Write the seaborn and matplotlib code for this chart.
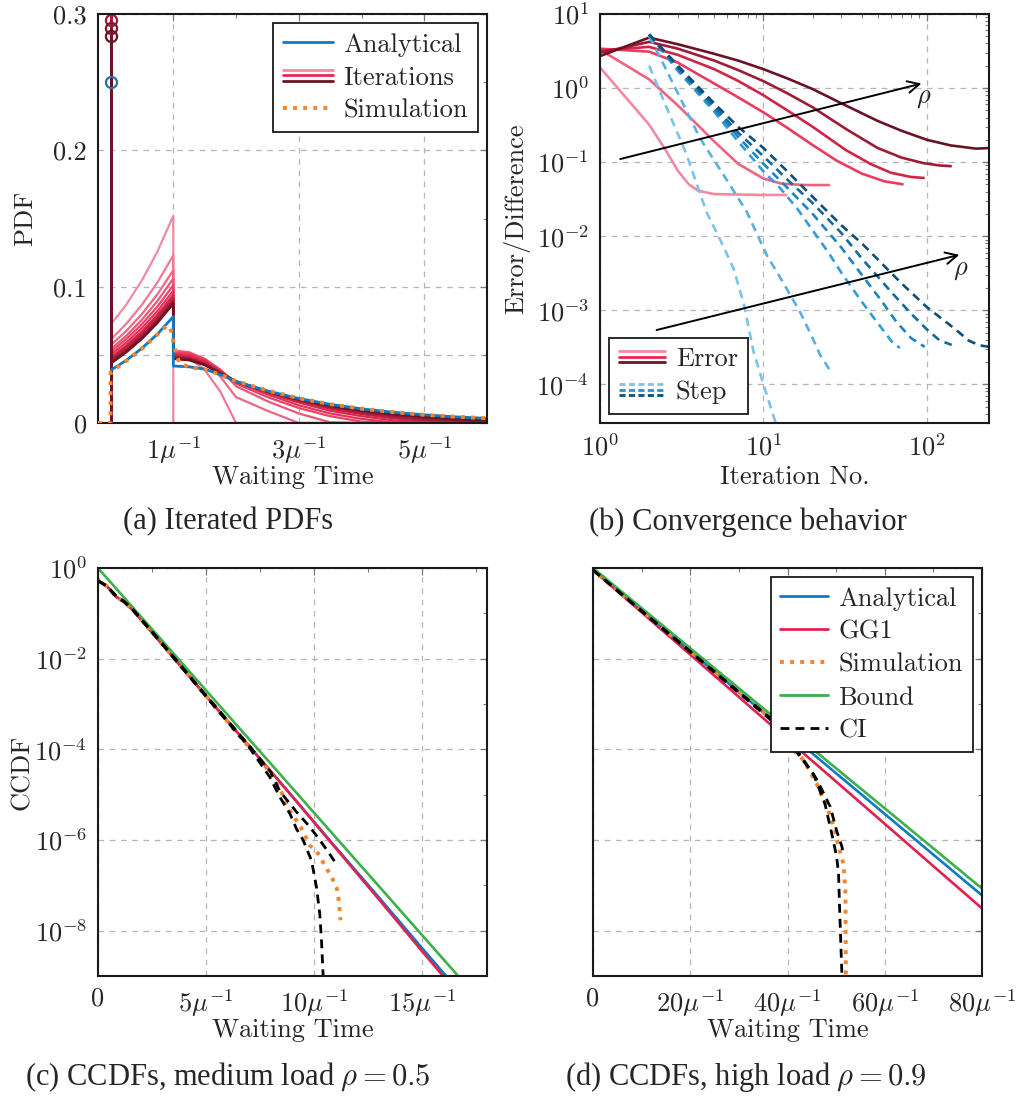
import numpy as np
import pandas as pd
import matplotlib
matplotlib.use("Agg")
import matplotlib.pyplot as plt
import matplotlib.ticker as mticker
from matplotlib.lines import Line2D
from matplotlib.legend_handler import HandlerBase
from matplotlib.colors import LinearSegmentedColormap
import seaborn as sns

# ------------------------------------------------------------------ data
# (a) iterated PDFs -- x in units of 1/mu
pdf_x_first = [0.0, 0.25, 0.5, 0.75, 1.0]
pdf_x_second = [1.0, 1.25, 1.5, 1.75, 2.0]
pdf_x_tail = [2.0, 2.5, 3.0, 3.5, 4.0, 4.5, 5.0, 5.5, 6.0]

iter_first = [
    [0.072, 0.0868, 0.1046, 0.126, 0.152],
    [0.061, 0.0727, 0.0867, 0.1033, 0.123],
    [0.057, 0.0675, 0.0799, 0.0946, 0.112],
    [0.054, 0.0639, 0.0757, 0.0896, 0.106],
    [0.052, 0.0615, 0.0725, 0.0856, 0.101],
    [0.050, 0.059, 0.0697, 0.0822, 0.097],
    [0.048, 0.0569, 0.0672, 0.0795, 0.094],
    [0.047, 0.0556, 0.0658, 0.0778, 0.092],
    [0.046, 0.0544, 0.0643, 0.0761, 0.090],
    [0.045, 0.0533, 0.0633, 0.0751, 0.089],
    [0.044, 0.0524, 0.0622, 0.0740, 0.088],
    [0.0435, 0.0518, 0.0617, 0.0735, 0.0875],
]
iter_second = [
    [0.0, 0.0, 0.0, 0.0, 0.0],
    [0.052, 0.048, 0.039, 0.023, 0.0],
    [0.053, 0.051, 0.045, 0.034, 0.019],
    [0.053, 0.052, 0.047, 0.039, 0.027],
    [0.052, 0.051, 0.047, 0.039, 0.029],
    [0.051, 0.050, 0.046, 0.038, 0.030],
    [0.050, 0.049, 0.045, 0.038, 0.030],
    [0.049, 0.048, 0.044, 0.037, 0.030],
    [0.0485, 0.0475, 0.0435, 0.037, 0.0305],
    [0.048, 0.047, 0.043, 0.0365, 0.0305],
    [0.0475, 0.0465, 0.0428, 0.0363, 0.0305],
    [0.047, 0.046, 0.0425, 0.036, 0.0305],
]
iter_tail = [
    [0.0, 0.0, 0.0, 0.0, 0.0, 0.0, 0.0, 0.0, 0.0],
    [0.0, 0.0, 0.0, 0.0, 0.0, 0.0, 0.0, 0.0, 0.0],
    [0.019, 0.009, 0.0, 0.0, 0.0, 0.0, 0.0, 0.0, 0.0],
    [0.027, 0.016, 0.007, 0.0005, 0.0, 0.0, 0.0, 0.0, 0.0],
    [0.029, 0.019, 0.011, 0.005, 0.001, 0.0, 0.0, 0.0, 0.0],
    [0.030, 0.021, 0.013, 0.007, 0.003, 0.0005, 0.0, 0.0, 0.0],
    [0.030, 0.022, 0.015, 0.009, 0.005, 0.002, 0.0005, 0.0, 0.0],
    [0.030, 0.0225, 0.016, 0.0105, 0.0065, 0.0035, 0.0015, 0.0004, 0.0],
    [0.0305, 0.023, 0.0165, 0.0115, 0.0075, 0.0045, 0.0025, 0.0011, 0.0003],
    [0.0305, 0.023, 0.017, 0.012, 0.0083, 0.0055, 0.0034, 0.0019, 0.0009],
    [0.0305, 0.0232, 0.0172, 0.0125, 0.0089, 0.0062, 0.0041, 0.0026, 0.0015],
    [0.0305, 0.0233, 0.0175, 0.0128, 0.0093, 0.0066, 0.0046, 0.0031, 0.0020],
]
iter_atoms = [0.50, 0.42, 0.38, 0.355, 0.34, 0.327, 0.317, 0.31, 0.306,
              0.2957, 0.2896, 0.2835]

ana_first = [0.0386, 0.0460, 0.0548, 0.0654, 0.0780]
ana_second = [0.0418, 0.0412, 0.0395, 0.0355, 0.0305]
ana_tail = [0.0305, 0.0235, 0.0180, 0.0137, 0.0104, 0.0079, 0.0060, 0.0045, 0.0034]
ana_atom = 0.25

sim_a_x = [-0.2, 0.0, 0.0, 0.25, 0.5, 0.75, 0.9, 0.95, 1.0, 1.05, 1.1, 1.25, 1.5,
           1.75, 2.0, 2.5, 3.0, 3.5, 4.0, 4.5, 5.0, 5.5, 6.0]
sim_a_y = [0.0, 0.0, 0.037, 0.0455, 0.0545, 0.065, 0.0715, 0.070, 0.060, 0.050,
           0.044, 0.041, 0.0393, 0.0355, 0.0308, 0.0238, 0.0182, 0.0138, 0.0105,
           0.0080, 0.0060, 0.0046, 0.0035]

# (b) convergence behaviour
err_x = [
    [1, 2, 2.5, 3, 3.5, 4, 5, 7, 10, 14],
    [1, 2, 3, 4, 5, 7, 10, 13, 18, 25.5],
    [1, 2, 3, 5, 7, 10, 14, 20, 28, 40, 55, 72],
    [1, 2, 3, 5, 7, 10, 14, 20, 32, 45, 60, 80, 97],
    [1, 2, 3, 5, 7, 10, 14, 20, 32, 50, 70, 95, 120, 142],
    [1, 2, 3, 5, 7, 10, 14, 20, 32, 50, 70, 100, 140, 200, 243],
]
err_y = [
    [1.9, 0.32, 0.15, 0.076, 0.05, 0.041, 0.037, 0.0365, 0.036, 0.036],
    [3.3, 1.31, 0.58, 0.31, 0.19, 0.095, 0.060, 0.051, 0.049, 0.049],
    [3.4, 3.1, 2.2, 1.15, 0.75, 0.47, 0.29, 0.17, 0.105, 0.070, 0.055, 0.050],
    [3.2, 3.6, 2.8, 1.8, 1.25, 0.80, 0.50, 0.30, 0.145, 0.095, 0.072, 0.063, 0.061],
    [3.0, 4.2, 3.4, 2.35, 1.75, 1.24, 0.85, 0.55, 0.28, 0.155, 0.115, 0.097, 0.090,
     0.088],
    [2.7, 4.8, 3.9, 2.9, 2.35, 1.8, 1.35, 0.97, 0.58, 0.36, 0.265, 0.20, 0.168, 0.152,
     0.155],
]
step_x = [
    [2, 2.56, 3.39, 4.49, 5.5, 6.55, 7.6, 8.7, 10, 12, 13],
    [2, 2.33, 3.09, 4.09, 5.68, 7.9, 10.5, 13, 16.7, 20, 22.2, 25.5],
    [2, 3, 5, 7, 10, 12.6, 16, 20, 25, 30, 40, 52, 62, 68.4],
    [2, 3, 5, 7, 10, 14, 20, 30, 40, 52, 65, 80, 97],
    [2, 3, 5, 7, 10, 14, 20, 30, 40, 60, 80, 100, 120, 142],
    [2, 3, 5, 7, 10, 14, 20, 30, 40, 70, 100, 150, 180, 210, 243],
]
step_y = [
    [2.0, 0.54, 0.126, 0.021, 8.5e-3, 3.7e-3, 1.2e-3, 2.75e-4, 1e-4, 2.8e-5, 1.5e-5],
    [5.0, 2.6, 0.74, 0.21, 0.068, 0.0214, 5.5e-3, 2.5e-3, 9.6e-4, 4.2e-4, 2.5e-4,
     1.55e-4],
    [5.3, 1.7, 0.48, 0.19, 0.075, 0.045, 0.024, 0.012, 6e-3, 3.2e-3, 1.3e-3, 6e-4,
     3.6e-4, 3.1e-4],
    [5.3, 1.8, 0.52, 0.22, 0.095, 0.045, 0.02, 7e-3, 3e-3, 1.4e-3, 7e-4, 4.2e-4, 3.2e-4],
    [5.3, 1.9, 0.57, 0.25, 0.12, 0.058, 0.028, 0.011, 5e-3, 1.8e-3, 9e-4, 5.5e-4,
     3.9e-4, 3.4e-4],
    [5.3, 2.0, 0.62, 0.30, 0.155, 0.075, 0.034, 0.014, 8e-3, 2.3e-3, 1.1e-3, 5.5e-4,
     3.9e-4, 3.35e-4, 3.2e-4],
]
arrow_err = [(1.33, 0.11), (92.7, 1.15)]
arrow_step = [(2.22, 5.4e-4), (158.0, 5.6e-3)]

# (c) CCDFs, rho = 0.5
c_ana_x = [0, 0.4, 0.85, 1.2, 1.6, 3, 5, 7, 9, 11, 13, 15, 16.2]
c_ana_y = [0.52, 0.40, 0.23, 0.18, 0.12, 0.02, 1.5e-3, 1.17e-4, 9.1e-6, 6.9e-7,
           5.4e-8, 4.1e-9, 8.9e-10]
c_gg1_x = [0, 0.4, 0.85, 1.2, 1.6, 3, 5, 7, 9, 11, 13, 15, 16.2]
c_gg1_y = [0.52, 0.40, 0.23, 0.18, 0.12, 0.02, 1.5e-3, 1.17e-4, 9.0e-6, 6.6e-7,
           4.9e-8, 3.5e-9, 7.4e-10]
c_sim_x = [0, 0, 0.4, 0.85, 1.2, 1.6, 3, 5, 7, 8.0, 8.41, 8.88, 9.42, 9.80, 10.19,
           10.50, 10.80, 11.04, 11.14, 11.19, 11.22]
c_sim_y = [1.0, 0.52, 0.40, 0.23, 0.18, 0.12, 0.02, 1.5e-3, 1.1e-4, 3.0e-5, 1.35e-5,
           4.5e-6, 1.78e-6, 7.6e-7, 5.0e-7, 2.75e-7, 1.55e-7, 9.1e-8, 4.7e-8, 2.6e-8,
           1.7e-8]
c_bound_x = [0, 17.0]
c_bound_y = [1.0, 6.6e-10]
c_cilo_x = [0, 0.4, 0.85, 1.2, 1.6, 3, 5, 7, 7.95, 8.41, 8.88, 9.18, 9.49, 9.88,
            10.11, 10.26, 10.34, 10.42]
c_cilo_y = [0.52, 0.40, 0.23, 0.18, 0.12, 0.02, 1.45e-3, 1.1e-4, 2.45e-5, 8.9e-6,
            3.8e-6, 1.78e-6, 1.0e-6, 3.5e-7, 9.1e-8, 2.4e-8, 6.2e-9, 9.5e-10]
c_cihi_x = [0, 0.4, 0.85, 1.2, 1.6, 3, 5, 7, 8.0, 8.41, 9.18, 9.80, 10.26, 10.65, 10.96]
c_cihi_y = [0.53, 0.41, 0.24, 0.185, 0.125, 0.021, 1.55e-3, 1.2e-4, 3.1e-5, 1.2e-5,
            4.2e-6, 1.95e-6, 1.0e-6, 5.5e-7, 3.3e-7]

# (d) CCDFs, rho = 0.9
d_ana_x = [0, 20, 40, 60, 80]
d_ana_y = [0.9, 1.45e-2, 2.34e-4, 3.75e-6, 6.0e-8]
d_gg1_x = [0, 20, 40, 60, 80]
d_gg1_y = [0.9, 1.23e-2, 1.66e-4, 2.27e-6, 3.1e-8]
d_bound_x = [0, 20, 40, 60, 80]
d_bound_y = [1.0, 1.7e-2, 2.9e-4, 5.0e-6, 8.5e-8]
d_sim_x = [0, 0, 10, 20, 30, 38, 41.2, 43.3, 46.0, 48.4, 49.8, 50.5, 51.5, 51.9,
           51.95, 52.0]
d_sim_y = [1.0, 0.9, 0.115, 1.45e-2, 1.84e-3, 3.5e-4, 9.5e-5, 5.8e-5, 1.74e-5,
           4.5e-6, 1.6e-6, 7.1e-7, 3.0e-7, 7.8e-8, 1.45e-8, 1.0e-9]
d_cilo_x = [0, 10, 20, 30, 38, 42.6, 45.3, 47.7, 49.1, 50.1, 50.5, 50.7, 51.2]
d_cilo_y = [0.9, 0.11, 1.4e-2, 1.75e-3, 3.3e-4, 6.8e-5, 2.9e-5, 6.3e-6, 1.38e-6,
            4.3e-7, 1.8e-7, 3.4e-8, 1.0e-9]
d_cihi_x = [0, 10, 20, 30, 38, 42.9, 46.0, 48.8, 50.1, 51.2, 51.5]
d_cihi_y = [0.9, 0.115, 1.45e-2, 1.85e-3, 3.6e-4, 6.8e-5, 2.2e-5, 5.4e-6, 1.6e-6,
            7.1e-7, 4.6e-7]

# ------------------------------------------------------------------ style
sns.set_theme(style="white")
plt.rcParams["font.family"] = ["cmr10", "DejaVu Serif"]
plt.rcParams["mathtext.fontset"] = "cm"
plt.rcParams["axes.formatter.use_mathtext"] = True
plt.rcParams["axes.unicode_minus"] = False

C_BLUE = "#0a7cc4"
C_RED = "#e3204f"
C_ORANGE = "#f5852b"
C_GREEN = "#3cb14a"
C_PINK = "#f28aa4"
C_CRIM = "#e8294f"
C_DARK = "#6b1326"
C_SB1, C_SB2, C_SB3 = "#7cc3ea", "#1f93d3", "#0d4f78"

FS = 19
LW = 1.9
DOT = (0, (1.0, 1.6))
DASH = (0, (3.2, 2.2))

red_cmap = LinearSegmentedColormap.from_list("reds", [C_PINK, C_CRIM, C_DARK])
blue_cmap = LinearSegmentedColormap.from_list("blues", [C_SB1, C_SB2, C_SB3])

W, H = 1016, 1096
fig = plt.figure(figsize=(W / 100, H / 100), dpi=100)


def add_ax(l, t, r, b):
    return fig.add_axes([l / W, 1 - b / H, (r - l) / W, (b - t) / H])


def draw(ax, x, y, color, lw=LW, ls="-", z=2):
    df = pd.DataFrame({"x": x, "y": y})
    sns.lineplot(data=df, x="x", y="y", ax=ax, color=color, lw=lw, sort=False,
                 estimator=None, legend=False, zorder=z)
    ln = ax.lines[-1]
    ln.set_linestyle(ls)
    ln.set_solid_capstyle("butt")
    ln.set_dash_capstyle("butt")
    return ln


def style_ax(ax):
    for s in ax.spines.values():
        s.set_color("#1a1a1a")
        s.set_linewidth(1.5)
        s.set_zorder(5)
    ax.tick_params(which="both", direction="in", top=True, right=True,
                   color="#7a7a7a", labelsize=FS)
    ax.tick_params(which="major", length=5, width=0.9, pad=8)
    ax.tick_params(which="minor", length=3, width=0.8)
    ax.grid(True, which="major", color="#b5b5b5", lw=0.9, ls=(0, (4.5, 4.5)))
    ax.grid(False, which="minor")
    ax.set_axisbelow(True)


class StackHandler(HandlerBase):
    def __init__(self, colors, ls="-", lw=2.0, gap=0.3):
        super().__init__()
        self.colors, self.ls, self.lw, self.gap = colors, ls, lw, gap

    def create_artists(self, legend, orig_handle, xdescent, ydescent, width,
                       height, fontsize, trans):
        out = []
        yc = (height - ydescent) / 2
        for i, c in enumerate(self.colors):
            y = yc + (1 - i) * self.gap * height
            out.append(Line2D([-xdescent, -xdescent + width], [y, y], color=c,
                              lw=self.lw, linestyle=self.ls, transform=trans))
        return out


def make_legend(ax, handles, labels, loc, hmap=None, hl=1.85):
    leg = ax.legend(handles, labels, loc=loc, handler_map=hmap or {},
                    fontsize=FS, frameon=True, fancybox=False, framealpha=1,
                    edgecolor="#1a1a1a", borderpad=0.37, labelspacing=0.35,
                    handlelength=hl, handletextpad=0.4, borderaxespad=0.35)
    leg.get_frame().set_linewidth(1.3)
    leg.set_zorder(10)
    return leg


# ------------------------------------------------------------------ (a)
ax = add_ax(98, 14, 487, 423)
style_ax(ax)
n_it = len(iter_first)
it_cols = [red_cmap(i / (n_it - 1)) for i in range(n_it)]
for k in range(n_it):
    xs = pdf_x_first + pdf_x_second + pdf_x_tail
    ys = iter_first[k] + iter_second[k] + iter_tail[k]
    draw(ax, xs, ys, it_cols[k], lw=1.6, z=2)
# atoms (stems + circles)
draw(ax, [0, 0], [0, ana_atom], C_BLUE, lw=2.0, z=2)
ax.plot([0], [ana_atom], marker="o", ms=8, mfc="none", mec="#2f6f9a", mew=1.6,
        zorder=4)
for k in range(n_it):
    draw(ax, [0, 0], [0, iter_atoms[k]], it_cols[k], lw=2.0, z=3)
    ax.plot([0], [iter_atoms[k]], marker="o", ms=8, mfc="none", mec=it_cols[k],
            mew=1.6, zorder=4)
draw(ax, pdf_x_first + pdf_x_second + pdf_x_tail, ana_first + ana_second + ana_tail,
     C_BLUE, lw=2.0, z=3)
draw(ax, sim_a_x, sim_a_y, C_ORANGE, lw=2.8, ls=DOT, z=6)
ax.axhline(0.05, color="#b5b5b5", lw=0.9, ls=(0, (4.5, 4.5)), zorder=0.5)
ax.set_xlim(-0.2, 6.0)
ax.set_ylim(0, 0.3)
ax.xaxis.set_major_locator(mticker.FixedLocator([1, 3, 5]))
ax.xaxis.set_major_formatter(mticker.FixedFormatter(
    [r"$1\mu^{-1}$", r"$3\mu^{-1}$", r"$5\mu^{-1}$"]))
ax.xaxis.set_minor_locator(mticker.FixedLocator([0, 2, 4]))
ax.yaxis.set_major_locator(mticker.FixedLocator([0, 0.1, 0.2, 0.3]))
ax.yaxis.set_major_formatter(mticker.FixedFormatter(["0", "0.1", "0.2", "0.3"]))
ax.yaxis.set_minor_locator(mticker.FixedLocator([0.05, 0.15, 0.25]))
ax.set_xlabel("Waiting Time", fontsize=FS)
ax.set_ylabel("PDF", fontsize=FS)
ax.xaxis.set_label_coords(0.5, -0.132)
ax.xaxis.label.set_va("center")
ax.yaxis.set_label_coords(-0.188, 0.5)
ax.yaxis.label.set_va("center")
h_ana = Line2D([], [], color=C_BLUE, lw=2.0)
h_it = Line2D([], [], color=C_CRIM, lw=2.0)
h_sim = Line2D([], [], color=C_ORANGE, lw=2.8, ls=DOT)
make_legend(ax, [h_ana, h_it, h_sim], ["Analytical", "Iterations", "Simulation"],
            "upper right", {h_it: StackHandler([C_PINK, C_CRIM, C_DARK], lw=2.0)},
            hl=1.9)

# ------------------------------------------------------------------ (b)
ax = add_ax(600, 14, 989, 423)
ax.set_xscale("log")
ax.set_yscale("log")
style_ax(ax)
n_r = len(err_x)
for k in range(n_r):
    draw(ax, err_x[k], err_y[k], red_cmap(k / (n_r - 1)), lw=1.9, z=2)
for k in range(n_r):
    draw(ax, step_x[k], step_y[k], blue_cmap(k / (n_r - 1)), lw=1.9, ls=DASH, z=3)
arrow_kw = dict(arrowstyle="->,head_length=0.7,head_width=0.35", color="black",
                lw=1.4, shrinkA=0, shrinkB=0)
ax.annotate("", xy=arrow_err[1], xytext=arrow_err[0], arrowprops=arrow_kw, zorder=6)
ax.annotate("", xy=arrow_step[1], xytext=arrow_step[0], arrowprops=arrow_kw, zorder=6)
ax.text(96, 0.72, r"$\rho$", fontsize=FS, ha="center", va="center", zorder=6)
ax.text(162, 3.5e-3, r"$\rho$", fontsize=FS, ha="center", va="center", zorder=6)
ax.set_xlim(1, 240)
ax.set_ylim(3e-5, 10)
ax.xaxis.set_major_locator(mticker.FixedLocator([1, 10, 100]))
ax.xaxis.set_major_formatter(mticker.FixedFormatter(
    [r"$10^{0}$", r"$10^{1}$", r"$10^{2}$"]))
ax.xaxis.set_minor_locator(mticker.LogLocator(base=10, subs=np.arange(2, 10), numticks=20))
ax.xaxis.set_minor_formatter(mticker.NullFormatter())
yt = [1e1, 1e0, 1e-1, 1e-2, 1e-3, 1e-4]
ax.yaxis.set_major_locator(mticker.FixedLocator(yt))
ax.yaxis.set_major_formatter(mticker.FixedFormatter(
    [r"$10^{1}$", r"$10^{0}$", r"$10^{-1}$", r"$10^{-2}$", r"$10^{-3}$", r"$10^{-4}$"]))
ax.yaxis.set_minor_locator(mticker.LogLocator(base=10, subs=np.arange(2, 10), numticks=20))
ax.yaxis.set_minor_formatter(mticker.NullFormatter())
ax.set_xlabel("Iteration No.", fontsize=FS)
ax.set_ylabel("Error/Difference", fontsize=FS)
ax.xaxis.set_label_coords(0.5, -0.132)
ax.xaxis.label.set_va("center")
ax.yaxis.set_label_coords(-0.213, 0.5)
ax.yaxis.label.set_va("center")
h_err = Line2D([], [], color=C_CRIM, lw=2.0)
h_step = Line2D([], [], color=C_SB2, lw=2.0, ls=DASH)
make_legend(ax, [h_err, h_step], ["Error", "Step"], "lower left",
            {h_err: StackHandler([C_PINK, C_CRIM, C_DARK], lw=2.0),
             h_step: StackHandler([C_SB1, C_SB2, C_SB3], ls=(0, (2.2, 1.2)), lw=2.0)},
            hl=1.75)


def ccdf_axes(ax):
    ax.set_yscale("log")
    style_ax(ax)
    ax.set_ylim(1e-9, 1)
    ax.yaxis.set_major_locator(mticker.FixedLocator([1, 1e-2, 1e-4, 1e-6, 1e-8]))
    ax.yaxis.set_minor_locator(mticker.FixedLocator([1e-1, 1e-3, 1e-5, 1e-7]))
    ax.yaxis.set_minor_formatter(mticker.NullFormatter())


# ------------------------------------------------------------------ (c)
ax = add_ax(98, 568, 487, 976)
ccdf_axes(ax)
draw(ax, c_ana_x, c_ana_y, C_BLUE, z=2)
draw(ax, c_gg1_x, c_gg1_y, C_RED, z=2.1)
draw(ax, c_sim_x, c_sim_y, C_ORANGE, lw=2.8, ls=DOT, z=2.2)
draw(ax, c_bound_x, c_bound_y, C_GREEN, z=2.3)
draw(ax, c_cilo_x, c_cilo_y, "black", lw=2.0, ls=DASH, z=2.4)
draw(ax, c_cihi_x, c_cihi_y, "black", lw=2.0, ls=DASH, z=2.4)
ax.set_xlim(0, 18)
ax.xaxis.set_major_locator(mticker.FixedLocator([0, 5, 10, 15]))
ax.xaxis.set_major_formatter(mticker.FixedFormatter(
    ["0", r"$5\mu^{-1}$", r"$10\mu^{-1}$", r"$15\mu^{-1}$"]))
ax.xaxis.set_minor_locator(mticker.FixedLocator([2.5, 7.5, 12.5, 17.5]))
ax.yaxis.set_major_formatter(mticker.FixedFormatter(
    [r"$10^{0}$", r"$10^{-2}$", r"$10^{-4}$", r"$10^{-6}$", r"$10^{-8}$"]))
ax.set_xlabel("Waiting Time", fontsize=FS)
ax.set_ylabel("CCDF", fontsize=FS)
ax.xaxis.set_label_coords(0.5, -0.132)
ax.xaxis.label.set_va("center")
ax.yaxis.set_label_coords(-0.195, 0.5)
ax.yaxis.label.set_va("center")

# ------------------------------------------------------------------ (d)
ax = add_ax(593, 568, 982, 976)
ccdf_axes(ax)
draw(ax, d_ana_x, d_ana_y, C_BLUE, z=2)
draw(ax, d_gg1_x, d_gg1_y, C_RED, z=2.1)
draw(ax, d_sim_x, d_sim_y, C_ORANGE, lw=2.8, ls=DOT, z=2.2)
draw(ax, d_bound_x, d_bound_y, C_GREEN, z=2.3)
draw(ax, d_cilo_x, d_cilo_y, "black", lw=2.0, ls=DASH, z=2.4)
draw(ax, d_cihi_x, d_cihi_y, "black", lw=2.0, ls=DASH, z=2.4)
ax.set_xlim(0, 80)
ax.xaxis.set_major_locator(mticker.FixedLocator([0, 20, 40, 60, 80]))
ax.xaxis.set_major_formatter(mticker.FixedFormatter(
    ["0", r"$20\mu^{-1}$", r"$40\mu^{-1}$", r"$60\mu^{-1}$", r"$80\mu^{-1}$"]))
ax.xaxis.set_minor_locator(mticker.FixedLocator([10, 30, 50, 70]))
ax.yaxis.set_major_formatter(mticker.NullFormatter())
ax.set_xlabel("Waiting Time", fontsize=FS)
ax.set_ylabel("")
ax.xaxis.set_label_coords(0.5, -0.132)
ax.xaxis.label.set_va("center")
hd = [Line2D([], [], color=C_BLUE, lw=2.0), Line2D([], [], color=C_RED, lw=2.0),
      Line2D([], [], color=C_ORANGE, lw=2.8, ls=DOT),
      Line2D([], [], color=C_GREEN, lw=2.0),
      Line2D([], [], color="black", lw=2.0, ls=DASH)]
make_legend(ax, hd, ["Analytical", "GG1", "Simulation", "Bound", "CI"], "upper right",
            hl=1.8)

# ------------------------------------------------------------------ captions
cap_kw = dict(fontsize=22, family="Liberation Serif", ha="center", va="center")
fig.text(228 / W, 1 - 522 / H, "(a) Iterated PDFs", **cap_kw)
fig.text(748 / W, 1 - 522 / H, "(b) Convergence behavior", **cap_kw)
fig.text(228 / W, 1 - 1077 / H, r"(c) CCDFs, medium load $\rho = 0.5$", **cap_kw)
fig.text(746 / W, 1 - 1077 / H, r"(d) CCDFs, high load $\rho = 0.9$", **cap_kw)

fig.savefig("out.png", dpi=100)
